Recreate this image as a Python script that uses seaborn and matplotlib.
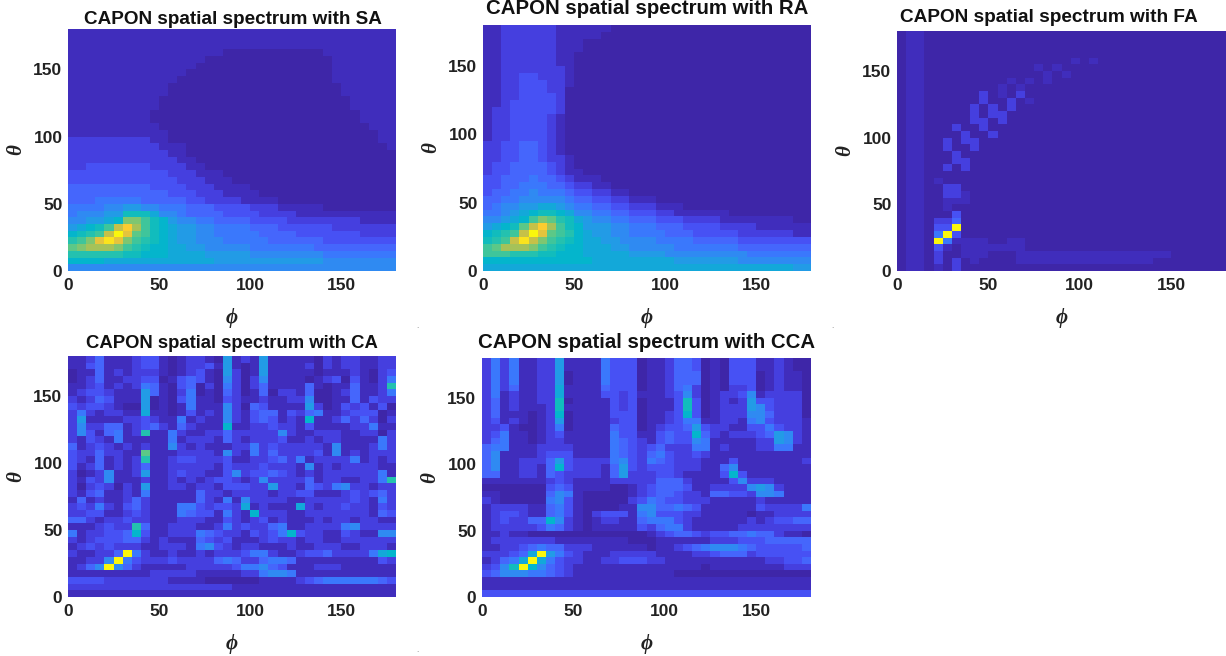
import matplotlib
matplotlib.use("Agg")
import matplotlib.pyplot as plt
from matplotlib.colors import LinearSegmentedColormap
import numpy as np
import pandas as pd
import seaborn as sns

# Cell levels: 0..k (base 36, 0-20), top row = theta 180, one char per 5 degrees
SA = """
111111 111111 111111 111111 111111 111111
111111 111111 111111 111111 111111 111111
111111 111111 111111 111111 111111 111111
111111 111111 111110 000000 000011 111111
111111 111111 111000 000000 000001 111111
111111 111111 110000 000000 000001 111111
111111 111111 100000 000000 000001 111111
111111 111111 000000 000000 000001 111111
111111 111110 000000 000000 000000 111111
111111 111110 000000 000000 000000 111111
111111 111100 000000 000000 000000 011111
111111 111100 000000 000000 000000 011111
111111 111000 000000 000000 000000 001111
111111 111000 000000 000000 000000 001111
111111 111100 000000 000000 000000 000111
111111 111110 000000 000000 000000 000011
222222 222110 000000 000000 000000 000011
222222 222211 100000 000000 000000 000001
222222 222221 100000 000000 000000 000000
222222 222222 110000 000000 000000 000000
223333 333222 211000 000000 000000 000000
333333 333332 221110 000000 000000 000000
333333 333333 222111 000000 000000 000000
444444 444333 322211 110000 000000 000000
444444 444443 332221 111000 000000 000000
444555 554444 433222 211110 000000 000000
555566 776655 544433 332221 111100 000000
566677 aaa866 544443 333222 211111 111111
667789 eeca97 665544 443333 222222 221111
789acg ifca98 776655 554443 333332 222222
9abcgk hdca98 776655 555444 433333 332222
bcehjh ecba98 776665 555544 444433 333333
defffe cba998 877666 665555 555444 444444
bbbbbb aa9998 888777 776666 666655 555555
999988 888888 888877 777777 777766 666666
666666 666666 666666 666666 666666 666666
"""

RA = """
112222 221111 110000 000000 000000 000000
112222 221111 100000 000000 000000 000000
112222 221110 000000 000000 000000 000000
112222 221110 000000 000000 000000 000000
112222 221100 000000 000000 000000 000000
112222 221100 000000 000000 000000 000000
112222 222100 000000 000000 000000 000000
112233 222100 000000 000000 000000 000000
112233 322100 000000 000000 000000 000000
112233 322000 000000 000000 000000 000000
112233 332000 000000 000000 000000 000000
112333 332000 000000 000000 000000 000000
122333 332000 000000 000000 000000 000000
122333 321000 000000 000000 000000 000000
122333 321000 000000 000000 000000 000000
122333 321000 000000 000000 000000 000000
122333 321000 000000 000000 000000 000000
223344 321000 000000 000000 000000 000000
223344 321000 000000 000000 000000 000000
223344 322100 000000 000000 000000 000000
233444 432100 000000 000000 000000 000000
233444 432110 000000 000000 000000 000000
334445 443211 100000 000000 000000 000000
334455 544322 110000 000000 000000 000000
344556 555433 221100 000000 000000 000000
445566 666544 332211 100000 000000 000000
456677 887655 443322 211100 000000 000000
556789 aa9866 554433 322111 111000 000000
66789c edba87 665544 433322 221111 111100
789adg ifca97 776655 544433 332222 111111
9abcgk hdcb98 776655 554443 333322 222211
abcgjg ecba98 877666 655554 444433 333333
cdfffe cba998 887766 666555 555544 444444
cccbbb aa9998 888877 776666 666665 555555
999999 999999 888888 888777 777766 666666
888888 888888 888888 888888 888888 888877
"""

FA = """
011000 000000 000000 000000 000000 000000
011000 000000 000000 000000 000000 000000
011000 000000 000000 000000 000000 000000
011000 000000 000000 000000 000000 000000
011000 000000 000000 010100 000000 000000
011000 000000 000101 000000 000000 000000
011000 000000 000010 100000 000000 000000
011000 000000 101010 000000 000000 000000
011000 000001 010000 000000 000000 000000
011000 000201 020000 000000 000000 000000
011000 000200 201000 000000 000000 000000
011000 002020 200000 000000 000000 000000
011000 002022 000000 000000 000000 000000
011000 002202 000000 000000 000000 000000
011000 200200 000000 000000 000000 000000
011000 020020 000000 000000 000000 000000
011002 022000 000000 000000 000000 000000
011002 002000 000000 000000 000000 000000
011000 200000 000000 000000 000000 000000
011000 220000 000000 000000 000000 000000
011002 020000 000000 000000 000000 000000
011000 000000 000000 000000 000000 000000
011010 000000 000000 000000 000000 000000
011002 200000 000000 000000 000000 000000
011002 210000 000000 000000 000000 000000
011001 110000 000000 000000 000000 000000
011001 000000 000000 000000 000000 000000
011000 300000 000000 000000 000000 000000
011022 400000 000000 000000 000000 000000
011033 k00000 000000 000000 000000 000000
01105k 300000 000000 000000 000000 000000
0110k5 111100 110000 000000 000000 000000
011031 011111 110000 000000 000000 000000
011020 011100 011111 111111 111111 000000
011020 201000 011111 111111 111100 000000
011010 200000 000000 000000 000000 000000
"""

CA = """
112411 123310 122107 121711 111021 221122
113411 123310 122317 101711 112021 221122
011412 122210 123107 201711 111011 121023
012411 223301 343106 202611 110123 031025
112312 125410 340205 202411 114101 14112b
123321 117410 250104 201402 214001 241125
212431 117010 351103 211211 226001 141322
323321 007010 151116 204311 117201 323130
252122 118110 131216 213441 324511 233301
271111 223211 512116 213431 219112 424202
262244 123421 421119 112232 213111 122511
263145 12b115 211224 222226 211222 112202
213215 111115 122214 212223 112122 111152
412321 212116 212111 225232 222216 111252
322422 11d111 222216 215242 222316 121222
321412 12b112 332223 112234 251222 251212
312412 124112 222213 222322 216121 222211
201261 127112 322113 623343 212122 222251
213261 112112 121233 212622 224122 11225b
202320 217112 212213 332272 214325 622122
213411 215111 114221 222212 233111 232342
141211 242111 114215 162222 112222 232152
232521 342111 553233 281211 182122 322132
223311 232111 543315 219222 112222 222143
442122 322111 222113 212312 111212 212211
111232 2b4112 221125 232245 112222 562222
512233 493112 225432 213235 932211 321166
212333 442121 114323 111232 212211 222222
123232 221122 215632 122111 211222 112221
211224 k52112 112122 235521 123342 222589
11226k 532223 222245 422455 411111 111132
1246k6 421111 122222 355643 111222 111111
111111 111222 221111 122566 511111 111111
333322 222221 111000 000111 123455 555543
222222 222222 222222 111111 111111 111111
111111 111111 111111 111111 111111 111111
"""

CCA = """
252511 227111 153330 112443 010333 112100
252511 227111 153330 112443 010333 112100
252511 227011 153330 112444 010333 012110
252511 227011 153330 112444 010333 012110
252411 228111 143330 112452 010223 012110
251211 228111 133231 112362 012236 122220
241211 22a011 113230 1113a3 012127 332220
241211 12a111 113230 1113a3 012227 632220
241110 129011 113330 112393 012226 642220
231210 127011 112330 112355 112215 632221
223100 125011 114330 123347 322113 353221
235110 123111 115331 134339 421222 347621
245110 122111 115432 134336 511111 227621
455111 222211 115432 342225 512111 225511
461111 233311 115432 453223 211111 111111
461122 247322 225632 543222 111311 111112
461122 149322 214732 333222 114611 111111
441122 143222 214722 233211 113931 111111
111111 123211 112222 244421 111362 221111
000000 034311 110012 344431 122226 762111
110000 046510 000012 344322 144332 665111
210000 056310 000023 543322 211111 211111
122221 145310 000116 644543 111111 322225
123321 145310 233315 633322 111110 112222
123224 496210 122114 555321 111112 123344
122222 354210 111113 245521 111122 222222
112110 000000 000000 123443 233445 442110
122222 221111 111100 011111 122233 344444
112234 544222 111111 011234 566654 333334
222348 k75321 112222 211112 234442 333333
12458k 853221 122333 221111 111111 122334
236ak9 643211 111111 111111 011111 111222
346665 543211 111111 111000 000000 000000
111111 111111 111111 111111 111111 111111
111111 111111 111111 111111 111111 111111
333333 333333 333333 333333 333333 333333
"""

TITLES = ["CAPON spatial spectrum with SA", "CAPON spatial spectrum with RA",
          "CAPON spatial spectrum with FA", "CAPON spatial spectrum with CA",
          "CAPON spatial spectrum with CCA"]
TICKS = [0, 50, 100, 150]
STEP = 5
MAX_LEVEL = 20

# pixel boxes: left, top, right, bottom
BOXES = [(68, 29, 396, 271), (483, 25, 811, 271), (897, 31, 1226, 271),
         (68, 356, 396, 597), (482, 358, 811, 597)]
TITLE_SIZE = [13.55, 14.7, 13.7, 13.35, 14.7]
TITLE_X = [233, 647, 1049, 232, 647]
TITLE_Y = [20, 9, 17, 343, 343]

W, H = 1226, 656
STOPS = [0, .05, .10, .15, .20, .25, .33, .46, .55, .67, .78, .89, 1]
PARULA = [(.2422, .1504, .6603), (.25, .18, .74), (.27, .25, .88), (.28, .32, .96),
          (.27, .40, .99), (.23, .47, .99),
          (.1540, .5902, .9218), (.0036, .7197, .7917), (.1408, .7584, .6857),
          (.40, .79, .50), (.73, .75, .30), (.99, .78, .20), (.98, .97, .05)]
cmap = LinearSegmentedColormap.from_list("parula", list(zip(STOPS, PARULA)))


def parse(block):
    rows = [r.replace(" ", "") for r in block.strip().splitlines()]
    for i, r in enumerate(rows):
        assert len(r) == 36, (i, r)
    assert len(rows) == 36, len(rows)
    return np.array([[int(c, 36) for c in r] for r in rows[::-1]], float)


sns.set_theme(style="white")
plt.rcParams["font.family"] = ["Liberation Sans", "DejaVu Sans"]
fig = plt.figure(figsize=(W / 100, H / 100), dpi=100)

for k, (block, title) in enumerate(zip([SA, RA, FA, CA, CCA], TITLES)):
    l, t, r, b = BOXES[k]
    ax = fig.add_axes([l / W, 1 - b / H, (r - l) / W, (b - t) / H])
    df = pd.DataFrame(parse(block))
    sns.heatmap(df, ax=ax, cmap=cmap, vmin=0, vmax=MAX_LEVEL, cbar=False,
                xticklabels=False, yticklabels=False)
    ax.set_ylim(0, 36)
    ax.set_xlim(0, 36)
    ax.set_xticks([v / STEP for v in TICKS])
    ax.set_yticks([v / STEP for v in TICKS])
    ax.set_xticklabels(TICKS, fontsize=12.5, fontweight="bold", color="#222222")
    ax.set_yticklabels(TICKS, fontsize=12.5, fontweight="bold", color="#222222",
                       rotation=0)
    ax.tick_params(axis="x", length=0, pad=5)
    ax.tick_params(axis="y", length=0, pad=4)
    ax.set_xlabel("ϕ", family="Liberation Serif", style="italic", fontweight="bold",
                  fontsize=15, labelpad=11, color="#222222")
    ax.set_ylabel("θ", family="Liberation Serif", style="italic", fontweight="bold",
                  fontsize=15, labelpad=5, color="#222222")
    fig.text(TITLE_X[k] / W, 1 - TITLE_Y[k] / H, title, ha="center", va="center",
             fontsize=TITLE_SIZE[k], fontweight="bold", color="#111111")

for px, py in [(417, 326), (832, 326), (417, 651)]:
    fig.text(px / W, 1 - py / H, ".", fontsize=6, color="#777777", ha="center", va="center")

fig.savefig("out.png", dpi=100)
